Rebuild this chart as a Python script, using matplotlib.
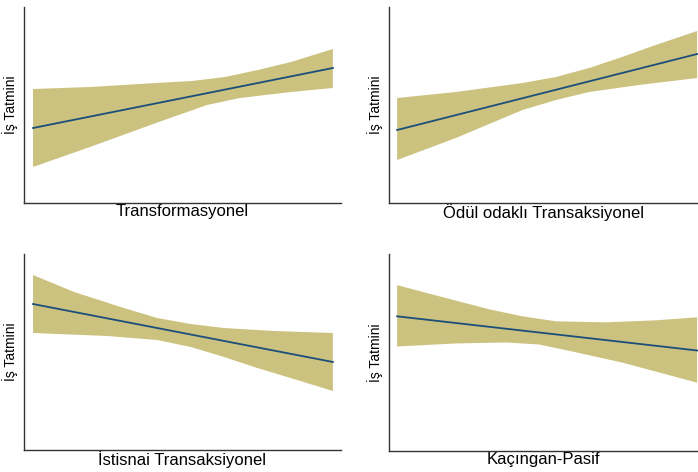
import numpy as np
import matplotlib
matplotlib.use('Agg')
import matplotlib.pyplot as plt

plt.rcParams['font.family'] = ['Liberation Sans', 'DejaVu Sans']

band_color = '#CCC27F'
line_color = '#1B4F7A'
spine_color = '#333333'

# x labels of the four panels
x_labels = ['Transformasyonel', 'Ödül odaklı Transaksiyonel',
            'İstisnai Transaksiyonel', 'Kaçıngan-Pasif']
y_label = 'İş Tatmini'

# fitted line (start, end)
line_x = [0.0, 1.0]
line_y1 = [75, 135]
line_y2 = [73, 149]
line_y3 = [146, 88]
line_y4 = [134, 100]

# confidence band, upper and lower edges
up_x1 = [0, 0.19, 0.41, 0.53, 0.64, 0.75, 0.86, 1.0]
up_y1 = [114, 116, 120, 122, 126, 133, 141, 154]
lo_x1 = [0, 0.19, 0.41, 0.58, 0.69, 0.86, 1.0]
lo_y1 = [36, 56, 80, 98, 105, 111, 115]

up_x2 = [0, 0.196, 0.418, 0.53, 0.64, 0.75, 0.862, 1.0]
up_y2 = [105, 111, 120, 126, 135, 146, 158, 172]
lo_x2 = [0, 0.196, 0.418, 0.53, 0.64, 0.806, 1.0]
lo_y2 = [43, 65, 93, 103, 111, 118, 125]

up_x3 = [0, 0.137, 0.303, 0.414, 0.526, 0.637, 0.803, 1.0]
up_y3 = [175, 158, 142, 132, 126, 122, 119, 117]
lo_x3 = [0, 0.248, 0.414, 0.526, 0.637, 0.748, 0.859, 1.0]
lo_y3 = [117, 114, 110, 103, 93, 82, 72, 59]

up_x4 = [0, 0.14, 0.307, 0.418, 0.53, 0.695, 0.862, 1.0]
up_y4 = [165, 154, 141, 134, 129, 128, 130, 133]
lo_x4 = [0, 0.196, 0.362, 0.473, 0.584, 0.75, 1.0]
lo_y4 = [104, 107, 108, 106, 99, 88, 68]

panels = [
    (line_y1, up_x1, up_y1, lo_x1, lo_y1),
    (line_y2, up_x2, up_y2, lo_x2, lo_y2),
    (line_y3, up_x3, up_y3, lo_x3, lo_y3),
    (line_y4, up_x4, up_y4, lo_x4, lo_y4),
]

# axes rectangles [left, bottom, width, height] in figure fractions
W, H = 698.0, 472.0
rects = [
    [24 / W, 1 - 203 / H, 317 / W, 196 / H],
    [389 / W, 1 - 203 / H, 309 / W, 196 / H],
    [24 / W, 1 - 450 / H, 317 / W, 196 / H],
    [389 / W, 1 - 451 / H, 309 / W, 197 / H],
]
xlims = [(-0.03, 1.027), (-0.027, 1.003), (-0.03, 1.027), (-0.027, 1.003)]

fig = plt.figure(figsize=(6.98, 4.72), dpi=100)

for i, (ly, ux, uy, lx, lyb) in enumerate(panels):
    ax = fig.add_axes(rects[i])
    px = list(ux) + list(lx[::-1])
    py = list(uy) + list(lyb[::-1])
    ax.fill(px, py, color=band_color, lw=0)
    ax.plot(line_x, ly, color=line_color, lw=1.3)
    ax.set_xlim(*xlims[i])
    ax.set_ylim(0, 196)
    ax.set_xticks([])
    ax.set_yticks([])
    for s in ['top', 'right']:
        ax.spines[s].set_visible(False)
    for s in ['left', 'bottom']:
        ax.spines[s].set_color(spine_color)
        ax.spines[s].set_linewidth(1.0)
    ax.set_xlabel(x_labels[i], fontsize=12, labelpad=1)
    ax.set_ylabel(y_label, fontsize=10, labelpad=4)

fig.savefig('out.png', dpi=100)
